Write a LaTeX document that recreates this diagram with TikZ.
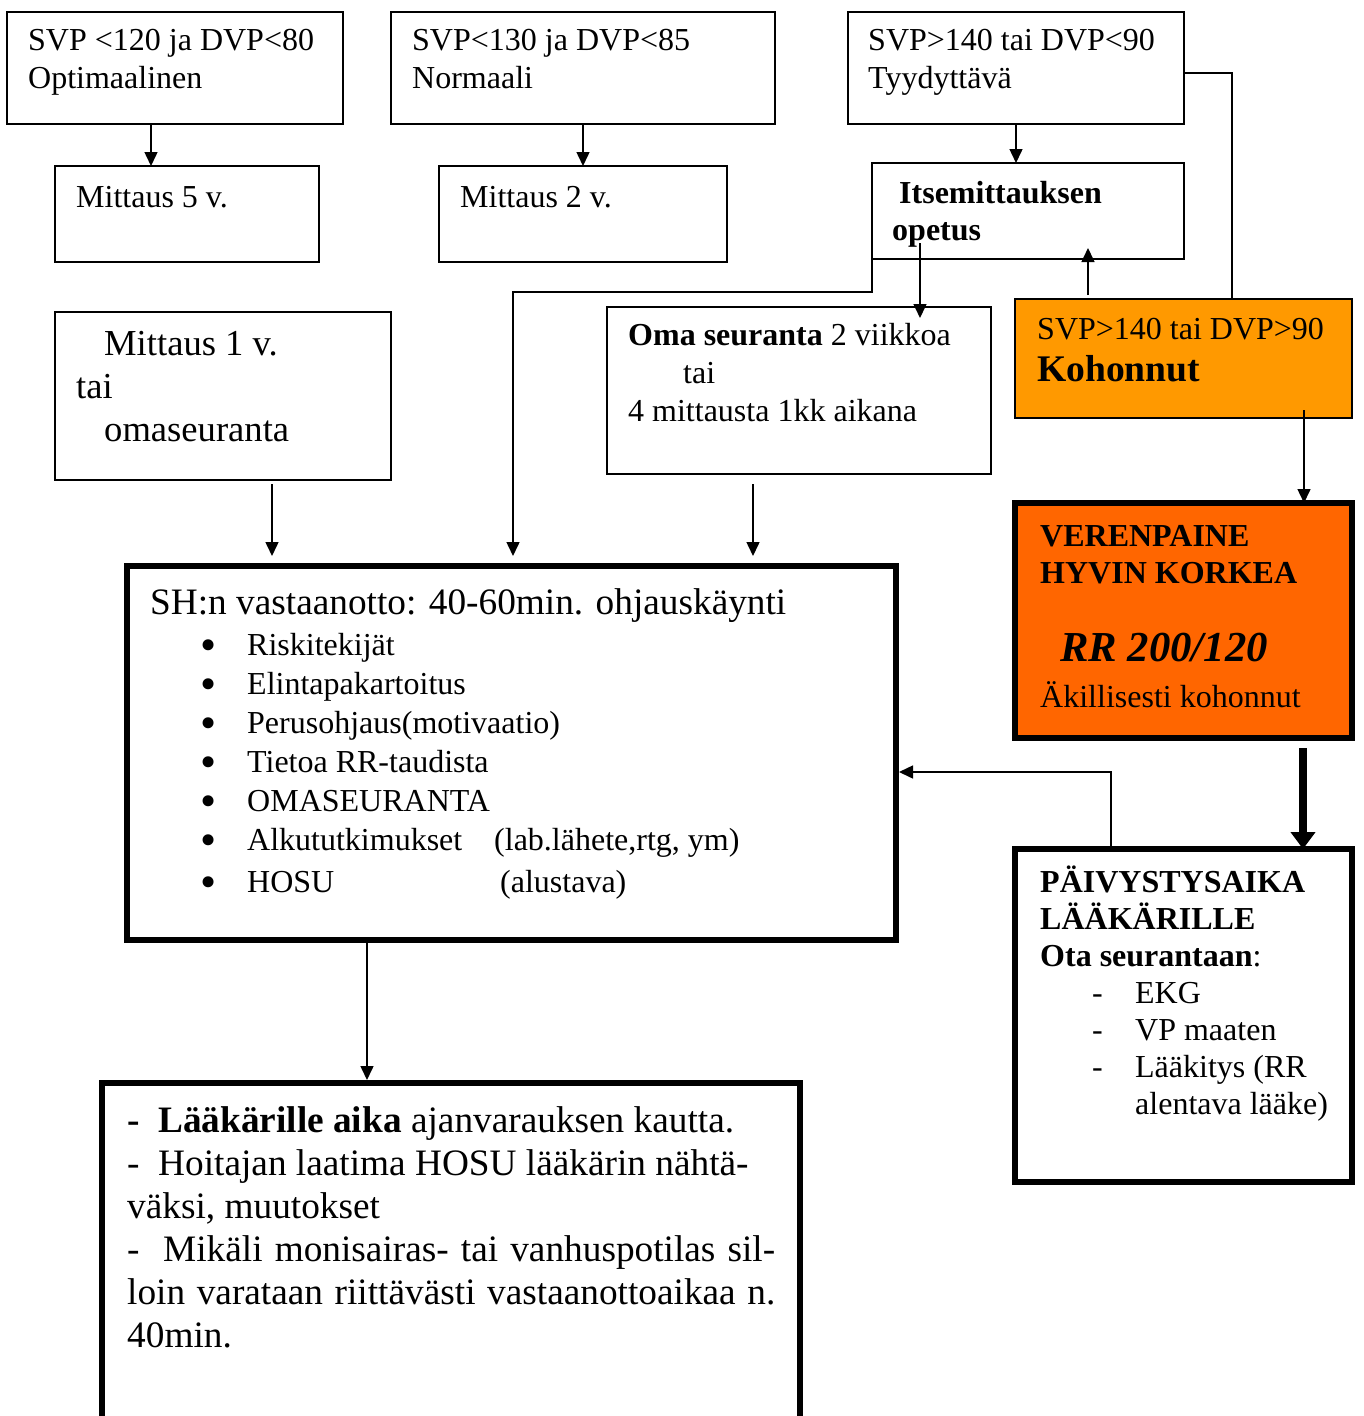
\documentclass[tikz,border=0pt]{standalone}
\usepackage{fontspec}
\setmainfont{Liberation Serif}
\usetikzlibrary{arrows.meta}
\definecolor{kohcol}{HTML}{FF9900}
\definecolor{vpcol}{HTML}{FF6600}
\newcommand{\blt}{\makebox[47pt][l]{\smash{\raisebox{-5pt}{\fontsize{46}{0}\selectfont\textbullet}}}}

\begin{document}
\begin{tikzpicture}[x=1pt, y=-1pt,
      box/.style={draw, line width=2pt, anchor=north west, inner sep=0pt, outer sep=0pt},
      bigbox/.style={box, line width=6pt},
      txt/.style={anchor=north west, inner sep=0pt, align=left,
        execute at begin node=\strut, font=\fontsize{32}{38.5}\selectfont},
      bigtxt/.style={txt, font=\fontsize{37.3}{43}\selectfont},
      arr/.style={-{Triangle[length=14pt,width=13pt]}, line width=1.5pt},
      link/.style={line width=1.5pt}]
  \useasboundingbox (0,0) rectangle (1363,1416);
  % boxes
  \node [box, minimum width=336, minimum height=112] (b1) at (7,12) {};
  \node [box, minimum width=384, minimum height=112] (b2) at (391,12) {};
  \node [box, minimum width=336, minimum height=112] (b3) at (848,12) {};
  \node [box, minimum width=264, minimum height=96] (m5) at (55,166) {};
  \node [box, minimum width=288, minimum height=96] (m2) at (439,166) {};
  \node [box, minimum width=312, minimum height=96] (itse) at (872,163) {};
  \node [box, minimum width=336, minimum height=168] (m1) at (55,312) {};
  \node [box, minimum width=384, minimum height=167] (oma) at (607,307) {};
  \node [box, fill=kohcol, minimum width=337, minimum height=119] (koh) at (1015,299) {};
  \node [bigbox, fill=vpcol, minimum width=337, minimum height=235] (vp) at (1015,503) {};
  \node [bigbox, minimum width=769, minimum height=374] (sh) at (127,566) {};
  \node [bigbox, minimum width=337, minimum height=333] (paiv) at (1015,849) {};
  \node [bigbox, minimum width=698, minimum height=400] (laak) at (102,1083) {};
  % texts
  \node [txt] (b1t) at (28,29) {SVP <120 ja DVP<80\\Optimaalinen};
  \node [txt] (b2t) at (412,29) {SVP<130 ja DVP<85\\Normaali};
  \node [txt] (b3t) at (868,29) {SVP>140 tai DVP<90\\Tyydyttävä};
  \node [txt] (m5t) at (76,180) {Mittaus 5 v.};
  \node [txt] (m2t) at (460,180) {Mittaus 2 v.};
  \node [txt, font=\fontsize{32}{37}\selectfont\bfseries] (itset) at (892,181)
        {\hspace*{7pt}Itsemittauksen\\opetus};
  \node [txt, font=\fontsize{36.6}{43}\selectfont] (m1t) at (76,331)
        {\hspace*{28pt}Mittaus 1 v.\\tai\\\hspace*{28pt}omaseuranta};
  \node [txt, font=\fontsize{32}{38}\selectfont] (omat) at (628,323)
        {\textbf{Oma seuranta} 2 viikkoa\\\hspace*{55pt}tai\\4 mittausta 1kk aikana};
  \node [txt] (koht) at (1037,312) {SVP>140 tai DVP>90};
  \node [txt, font=\fontsize{37.6}{43}\selectfont\bfseries] (kohb) at (1037,351) {Kohonnut};
  \node [txt, font=\fontsize{32}{37}\selectfont\bfseries] (vpt) at (1040,525)
        {VERENPAINE\\HYVIN KORKEA};
  \node [txt, font=\fontsize{42.7}{49}\selectfont\bfseries\itshape] (vprr) at (1060,627) {RR 200/120};
  \node [txt] (vpak) at (1040,680) {Äkillisesti kohonnut};
  \node [bigtxt] (sht) at (150,584) {SH:n vastaanotto: 40-60min. ohjauskäynti};
  \node [txt, font=\fontsize{32}{39}\selectfont] (shl) at (200,633)
        {\blt Riskitekijät\\
         \blt Elintapakartoitus\\
         \blt Perusohjaus(motivaatio)\\
         \blt Tietoa RR-taudista\\
         \blt OMASEURANTA\\
         \blt\makebox[247pt][l]{Alkututkimukset}(lab.lähete,rtg, ym)\\[3pt]
         \blt\makebox[253pt][l]{HOSU}(alustava)};
  \node [txt, font=\fontsize{32}{37}\selectfont] (paivt) at (1040,866)
        {\textbf{PÄIVYSTYSAIKA}\\\textbf{LÄÄKÄRILLE}\\\textbf{Ota seurantaan}:\\
         \hspace*{52pt}\makebox[43pt][l]{-}EKG\\
         \hspace*{52pt}\makebox[43pt][l]{-}VP maaten\\
         \hspace*{52pt}\makebox[43pt][l]{-}Lääkitys (RR\\
         \hspace*{95pt}alentava lääke)};
  \node [bigtxt] (laakt) at (127,1106)
        {\makebox[31pt][l]{\textbf{-}}\textbf{Lääkärille aika} ajanvarauksen kautta.\\
         \makebox[31pt][l]{-}Hoitajan laatima HOSU lääkärin nähtä-\\
         väksi, muutokset\\
         \makebox[648pt][s]{\makebox[36pt][l]{-}Mikäli monisairas- tai vanhuspotilas sil-}\\
         \makebox[648pt][s]{loin varataan riittävästi vastaanottoaikaa n.}\\
         40min.};
  % connectors
  \draw [arr] ([xshift=144pt]b1.south west) coordinate (c1) -- (c1 |- m5.north);
  \draw [arr] ([xshift=192pt]b2.south west) coordinate (c2) -- (c2 |- m2.north);
  \draw [arr] ([xshift=168pt]b3.south west) coordinate (c3) -- (c3 |- itse.north);
  \draw [link] ([yshift=-61pt]b3.north east) -| ([xshift=217pt]koh.north west);
  \draw [arr, shorten >=10pt] (itse.south west) -- ++(0,33) -| ([xshift=386pt]sh.north west);
  \draw [arr, shorten >=-11pt] ([xshift=48pt,yshift=16pt]itse.south west) coordinate (c4)
        -- (c4 |- oma.north);
  \draw [arr, shorten >=-11pt] ([xshift=73pt,yshift=4pt]koh.north west) coordinate (c5)
        -- (c5 |- itse.south);
  \draw [arr] ([xshift=289pt,yshift=8pt]koh.south west) coordinate (c6) -- (c6 |- vp.north);
  \draw [-{Triangle[length=17pt,width=24pt]}, line width=8pt]
        ([xshift=288pt,yshift=-10pt]vp.south west) coordinate (c7) -- (c7 |- paiv.north);
  \draw [arr, shorten >=3pt] ([xshift=96pt]paiv.north west) |- ([yshift=-206pt]sh.north east);
  \draw [arr, shorten >=10pt] ([xshift=217pt,yshift=-4pt]m1.south west) coordinate (c8)
        -- (c8 |- sh.north);
  \draw [arr, shorten >=10pt] ([xshift=146pt,yshift=-10pt]oma.south west) coordinate (c9)
        -- (c9 |- sh.north);
  \draw [arr, shorten >=3pt] ([xshift=240pt]sh.south west) coordinate (c10) -- (c10 |- laak.north);
\end{tikzpicture}
\end{document}
